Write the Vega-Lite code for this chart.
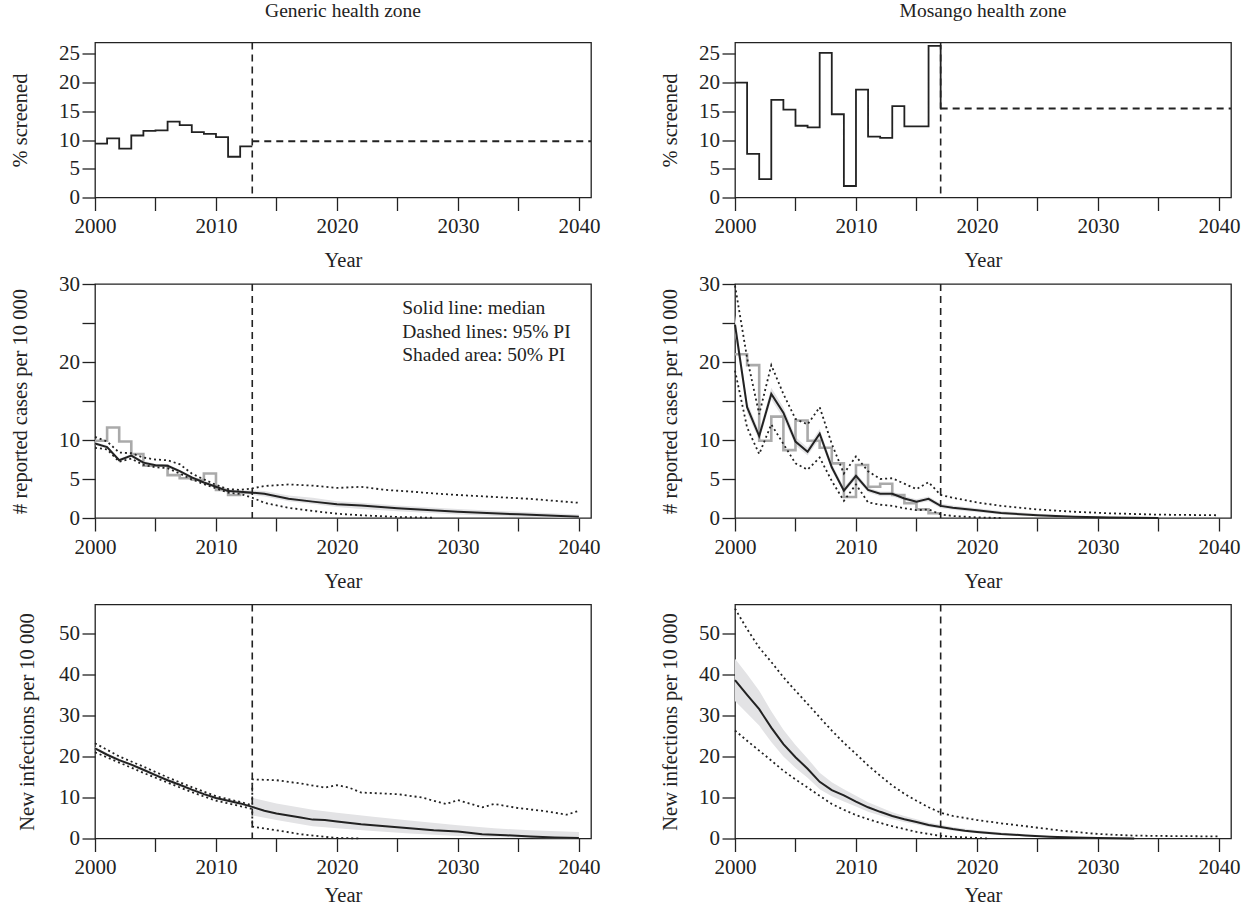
{
  "$schema": "https://vega.github.io/schema/vega-lite/v6.json",
  "background": "white",
  "padding": {"left": 10, "top": 0.5, "right": 5, "bottom": 0},
  "columns": 2,
  "spacing": {"row": 86.5, "column": 144},
  "bounds": "flush",
  "config": {
    "font": "Liberation Serif",
    "view": {"stroke": "#222", "strokeWidth": 1.3},
    "title": {"font": "Liberation Serif", "fontSize": 19.5, "fontWeight": "normal", "color": "#222", "anchor": "middle", "frame": "group", "baseline": "alphabetic", "offset": 20}
  },
  "datasets": {
    "gen_screen": [{"year":2000,"v":9.4},{"year":2001,"v":10.3},{"year":2002,"v":8.5},{"year":2003,"v":10.8},{"year":2004,"v":11.6},{"year":2005,"v":11.7},{"year":2006,"v":13.2},{"year":2007,"v":12.6},{"year":2008,"v":11.4},{"year":2009,"v":11.1},{"year":2010,"v":10.5},{"year":2011,"v":7.1},{"year":2012,"v":8.9},{"year":2013,"v":8.9}],
    "gen_proj": [{"year":2013,"end":2041,"v":9.8}],
    "gen_cut": [{"year":2013}],
    "mos_screen": [{"year":2000,"v":20.0},{"year":2001,"v":7.6},{"year":2002,"v":3.2},{"year":2003,"v":17.0},{"year":2004,"v":15.3},{"year":2005,"v":12.5},{"year":2006,"v":12.2},{"year":2007,"v":25.2},{"year":2008,"v":14.5},{"year":2009,"v":2.0},{"year":2010,"v":18.8},{"year":2011,"v":10.6},{"year":2012,"v":10.4},{"year":2013,"v":15.9},{"year":2014,"v":12.4},{"year":2015,"v":12.4},{"year":2016,"v":26.4},{"year":2017,"v":15.5}],
    "mos_proj": [{"year":2017,"end":2041,"v":15.5}],
    "mos_cut": [{"year":2017}],
    "gen_obs": [{"year":2000,"v":9.9},{"year":2001,"v":11.6},{"year":2002,"v":9.8},{"year":2003,"v":8.2},{"year":2004,"v":6.7},{"year":2005,"v":6.7},{"year":2006,"v":5.5},{"year":2007,"v":5.1},{"year":2008,"v":4.9},{"year":2009,"v":5.7},{"year":2010,"v":3.6},{"year":2011,"v":2.95},{"year":2012,"v":3.25},{"year":2013,"v":3.25}],
    "gen_cases_med": [{"year":2000,"v":9.55},{"year":2001,"v":9.1},{"year":2002,"v":7.4},{"year":2003,"v":8.0},{"year":2004,"v":7.1},{"year":2005,"v":6.75},{"year":2006,"v":6.7},{"year":2007,"v":6.0},{"year":2008,"v":5.2},{"year":2009,"v":4.55},{"year":2010,"v":4.0},{"year":2011,"v":3.45},{"year":2012,"v":3.35},{"year":2013,"v":3.25},{"year":2014,"v":3.1},{"year":2015,"v":2.8},{"year":2016,"v":2.48},{"year":2018,"v":2.1},{"year":2020,"v":1.75},{"year":2022,"v":1.6},{"year":2025,"v":1.24},{"year":2030,"v":0.81},{"year":2035,"v":0.47},{"year":2040,"v":0.17}],
    "gen_cases_50": [{"year":2000,"lo":9.35,"hi":9.75},{"year":2001,"lo":8.9,"hi":9.3},{"year":2002,"lo":7.2,"hi":7.6},{"year":2003,"lo":7.8,"hi":8.2},{"year":2004,"lo":6.9,"hi":7.3},{"year":2005,"lo":6.55,"hi":6.95},{"year":2006,"lo":6.5,"hi":6.9},{"year":2007,"lo":5.8,"hi":6.2},{"year":2008,"lo":5.0,"hi":5.4},{"year":2009,"lo":4.35,"hi":4.75},{"year":2010,"lo":3.8,"hi":4.2},{"year":2011,"lo":3.25,"hi":3.65},{"year":2012,"lo":3.15,"hi":3.55},{"year":2013,"lo":2.95,"hi":3.55},{"year":2014,"lo":2.75,"hi":3.45},{"year":2016,"lo":2.15,"hi":2.9},{"year":2018,"lo":1.8,"hi":2.6},{"year":2020,"lo":1.4,"hi":2.15},{"year":2022,"lo":1.15,"hi":1.95},{"year":2025,"lo":0.85,"hi":1.6},{"year":2030,"lo":0.45,"hi":1.15},{"year":2035,"lo":0.15,"hi":0.8},{"year":2040,"lo":0.0,"hi":0.45}],
    "gen_cases_95": [{"b":"hi","year":2000,"v":10.4},{"b":"hi","year":2001,"v":9.8},{"b":"hi","year":2002,"v":8.4},{"b":"hi","year":2003,"v":8.3},{"b":"hi","year":2004,"v":7.75},{"b":"hi","year":2005,"v":7.5},{"b":"hi","year":2006,"v":7.4},{"b":"hi","year":2007,"v":6.9},{"b":"hi","year":2008,"v":5.7},{"b":"hi","year":2009,"v":4.95},{"b":"hi","year":2010,"v":4.25},{"b":"hi","year":2011,"v":3.7},{"b":"hi","year":2012,"v":3.6},{"b":"hi","year":2013,"v":3.8},{"b":"hi","year":2014,"v":4.1},{"b":"hi","year":2016,"v":4.3},{"b":"hi","year":2018,"v":4.15},{"b":"hi","year":2020,"v":3.85},{"b":"hi","year":2022,"v":4.0},{"b":"hi","year":2024,"v":3.6},{"b":"hi","year":2026,"v":3.4},{"b":"hi","year":2028,"v":3.15},{"b":"hi","year":2030,"v":2.95},{"b":"hi","year":2033,"v":2.7},{"b":"hi","year":2036,"v":2.45},{"b":"hi","year":2040,"v":1.95},
      {"b":"lo","year":2000,"v":9.0},{"b":"lo","year":2001,"v":8.8},{"b":"lo","year":2002,"v":7.2},{"b":"lo","year":2003,"v":7.6},{"b":"lo","year":2004,"v":6.8},{"b":"lo","year":2005,"v":6.5},{"b":"lo","year":2006,"v":6.4},{"b":"lo","year":2007,"v":5.7},{"b":"lo","year":2008,"v":4.95},{"b":"lo","year":2009,"v":4.35},{"b":"lo","year":2010,"v":3.8},{"b":"lo","year":2011,"v":3.25},{"b":"lo","year":2012,"v":3.1},{"b":"lo","year":2013,"v":2.6},{"b":"lo","year":2014,"v":1.95},{"b":"lo","year":2016,"v":1.3},{"b":"lo","year":2018,"v":0.9},{"b":"lo","year":2020,"v":0.55},{"b":"lo","year":2022,"v":0.35},{"b":"lo","year":2025,"v":0.13},{"b":"lo","year":2028,"v":0.03}],
    "mos_obs": [{"year":2000,"v":21.0},{"year":2001,"v":19.6},{"year":2002,"v":9.9},{"year":2003,"v":13.0},{"year":2004,"v":8.7},{"year":2005,"v":12.5},{"year":2006,"v":9.9},{"year":2007,"v":9.0},{"year":2008,"v":7.0},{"year":2009,"v":2.7},{"year":2010,"v":6.8},{"year":2011,"v":4.0},{"year":2012,"v":4.4},{"year":2013,"v":2.95},{"year":2014,"v":1.9},{"year":2015,"v":1.1},{"year":2016,"v":0.6},{"year":2017,"v":0.6}],
    "mos_cases_med": [{"year":2000,"v":24.8},{"year":2001,"v":14.2},{"year":2002,"v":10.5},{"year":2003,"v":15.9},{"year":2004,"v":13.5},{"year":2005,"v":9.8},{"year":2006,"v":8.5},{"year":2007,"v":10.8},{"year":2008,"v":6.5},{"year":2009,"v":3.5},{"year":2010,"v":5.4},{"year":2011,"v":3.6},{"year":2012,"v":3.1},{"year":2013,"v":3.1},{"year":2014,"v":2.5},{"year":2015,"v":2.1},{"year":2016,"v":2.45},{"year":2017,"v":1.55},{"year":2018,"v":1.3},{"year":2020,"v":1.0},{"year":2022,"v":0.65},{"year":2025,"v":0.35},{"year":2028,"v":0.15},{"year":2031,"v":0.05},{"year":2035,"v":0.0}],
    "mos_cases_50": [{"year":2000,"lo":23.5,"hi":26.0},{"year":2001,"lo":13.5,"hi":14.9},{"year":2002,"lo":9.9,"hi":11.1},{"year":2003,"lo":15.2,"hi":16.7},{"year":2004,"lo":12.8,"hi":14.2},{"year":2005,"lo":9.3,"hi":10.4},{"year":2006,"lo":8.0,"hi":9.0},{"year":2007,"lo":10.2,"hi":11.4},{"year":2008,"lo":6.1,"hi":7.0},{"year":2009,"lo":3.2,"hi":3.9},{"year":2010,"lo":5.0,"hi":5.8},{"year":2011,"lo":3.3,"hi":3.9},{"year":2012,"lo":2.8,"hi":3.4},{"year":2013,"lo":2.8,"hi":3.4},{"year":2014,"lo":2.2,"hi":2.8},{"year":2015,"lo":1.85,"hi":2.4},{"year":2016,"lo":2.15,"hi":2.75},{"year":2017,"lo":1.25,"hi":1.85},{"year":2018,"lo":1.05,"hi":1.6},{"year":2020,"lo":0.75,"hi":1.25},{"year":2022,"lo":0.45,"hi":0.9},{"year":2025,"lo":0.2,"hi":0.55},{"year":2028,"lo":0.05,"hi":0.3},{"year":2031,"lo":0.0,"hi":0.12}],
    "mos_cases_95": [{"b":"hi","year":2000,"v":29.8},{"b":"hi","year":2001,"v":20.5},{"b":"hi","year":2002,"v":13.3},{"b":"hi","year":2003,"v":19.6},{"b":"hi","year":2004,"v":15.9},{"b":"hi","year":2005,"v":12.7},{"b":"hi","year":2006,"v":12.0},{"b":"hi","year":2007,"v":14.2},{"b":"hi","year":2008,"v":9.5},{"b":"hi","year":2009,"v":5.7},{"b":"hi","year":2010,"v":7.9},{"b":"hi","year":2011,"v":6.0},{"b":"hi","year":2012,"v":5.0},{"b":"hi","year":2013,"v":5.1},{"b":"hi","year":2014,"v":4.4},{"b":"hi","year":2015,"v":3.7},{"b":"hi","year":2016,"v":4.6},{"b":"hi","year":2017,"v":2.95},{"b":"hi","year":2018,"v":2.6},{"b":"hi","year":2020,"v":2.0},{"b":"hi","year":2022,"v":1.55},{"b":"hi","year":2025,"v":1.1},{"b":"hi","year":2028,"v":0.8},{"b":"hi","year":2031,"v":0.6},{"b":"hi","year":2035,"v":0.43},{"b":"hi","year":2040,"v":0.35},
      {"b":"lo","year":2000,"v":18.9},{"b":"lo","year":2001,"v":11.6},{"b":"lo","year":2002,"v":8.2},{"b":"lo","year":2003,"v":12.0},{"b":"lo","year":2004,"v":9.5},{"b":"lo","year":2005,"v":7.0},{"b":"lo","year":2006,"v":6.2},{"b":"lo","year":2007,"v":7.75},{"b":"lo","year":2008,"v":4.75},{"b":"lo","year":2009,"v":2.2},{"b":"lo","year":2010,"v":4.3},{"b":"lo","year":2011,"v":2.0},{"b":"lo","year":2012,"v":1.7},{"b":"lo","year":2013,"v":1.55},{"b":"lo","year":2014,"v":1.25},{"b":"lo","year":2015,"v":1.0},{"b":"lo","year":2016,"v":1.1},{"b":"lo","year":2017,"v":0.47},{"b":"lo","year":2018,"v":0.25},{"b":"lo","year":2020,"v":0.08},{"b":"lo","year":2022,"v":0.0}],
    "gen_inf_med": [{"year":2000,"v":21.95},{"year":2001,"v":20.4},{"year":2002,"v":19.1},{"year":2003,"v":18.0},{"year":2004,"v":16.75},{"year":2005,"v":15.45},{"year":2006,"v":14.2},{"year":2007,"v":13.1},{"year":2008,"v":11.9},{"year":2009,"v":10.8},{"year":2010,"v":9.85},{"year":2011,"v":9.2},{"year":2012,"v":8.55},{"year":2013,"v":7.7},{"year":2014,"v":6.75},{"year":2015,"v":6.1},{"year":2016,"v":5.6},{"year":2017,"v":5.1},{"year":2018,"v":4.6},{"year":2019,"v":4.5},{"year":2020,"v":4.15},{"year":2022,"v":3.5},{"year":2024,"v":3.0},{"year":2026,"v":2.5},{"year":2028,"v":2.0},{"year":2030,"v":1.7},{"year":2032,"v":1.05},{"year":2034,"v":0.8},{"year":2036,"v":0.5},{"year":2038,"v":0.25},{"year":2040,"v":0.1}],
    "gen_inf_50": [{"year":2000,"lo":21.6,"hi":22.3},{"year":2002,"lo":18.75,"hi":19.45},{"year":2004,"lo":16.4,"hi":17.1},{"year":2006,"lo":13.85,"hi":14.55},{"year":2008,"lo":11.55,"hi":12.25},{"year":2010,"lo":9.5,"hi":10.2},{"year":2012,"lo":8.2,"hi":8.9},{"year":2013,"lo":7.35,"hi":8.05},{"year":2013,"lo":5.6,"hi":9.9},{"year":2015,"lo":4.5,"hi":8.5},{"year":2018,"lo":3.0,"hi":7.0},{"year":2020,"lo":2.5,"hi":6.3},{"year":2023,"lo":1.8,"hi":5.3},{"year":2026,"lo":1.2,"hi":4.4},{"year":2030,"lo":0.6,"hi":3.2},{"year":2033,"lo":0.3,"hi":2.5},{"year":2036,"lo":0.1,"hi":2.0},{"year":2040,"lo":0.0,"hi":1.6}],
    "gen_inf_95": [{"b":"hi","year":2000,"v":23.2},{"b":"hi","year":2002,"v":20.0},{"b":"hi","year":2004,"v":17.5},{"b":"hi","year":2006,"v":14.9},{"b":"hi","year":2008,"v":12.5},{"b":"hi","year":2010,"v":10.3},{"b":"hi","year":2012,"v":8.9},{"b":"hi","year":2013,"v":8.1},{"b":"hi","year":2013,"v":14.4},{"b":"hi","year":2015,"v":14.2},{"b":"hi","year":2017,"v":13.4},{"b":"hi","year":2019,"v":12.4},{"b":"hi","year":2020,"v":13.0},{"b":"hi","year":2021,"v":12.4},{"b":"hi","year":2022,"v":11.2},{"b":"hi","year":2025,"v":10.8},{"b":"hi","year":2027,"v":10.0},{"b":"hi","year":2029,"v":8.4},{"b":"hi","year":2030,"v":9.35},{"b":"hi","year":2032,"v":7.6},{"b":"hi","year":2033,"v":8.4},{"b":"hi","year":2035,"v":7.4},{"b":"hi","year":2037,"v":6.75},{"b":"hi","year":2039,"v":5.8},{"b":"hi","year":2040,"v":6.75},
      {"b":"lo","year":2000,"v":21.0},{"b":"lo","year":2002,"v":18.5},{"b":"lo","year":2004,"v":16.0},{"b":"lo","year":2006,"v":13.6},{"b":"lo","year":2008,"v":11.3},{"b":"lo","year":2010,"v":9.2},{"b":"lo","year":2012,"v":7.9},{"b":"lo","year":2013,"v":7.2},{"b":"lo","year":2013,"v":2.9},{"b":"lo","year":2015,"v":2.0},{"b":"lo","year":2017,"v":1.05},{"b":"lo","year":2019,"v":0.4},{"b":"lo","year":2020,"v":0.15},{"b":"lo","year":2022,"v":0.0}],
    "mos_inf_med": [{"year":2000,"v":38.6},{"year":2001,"v":35.0},{"year":2002,"v":31.5},{"year":2003,"v":27.0},{"year":2004,"v":23.0},{"year":2005,"v":19.8},{"year":2006,"v":17.0},{"year":2007,"v":13.8},{"year":2008,"v":11.8},{"year":2009,"v":10.5},{"year":2010,"v":9.0},{"year":2011,"v":7.6},{"year":2012,"v":6.5},{"year":2013,"v":5.5},{"year":2014,"v":4.7},{"year":2015,"v":4.0},{"year":2016,"v":3.3},{"year":2017,"v":2.8},{"year":2018,"v":2.3},{"year":2019,"v":1.9},{"year":2020,"v":1.6},{"year":2022,"v":1.1},{"year":2024,"v":0.75},{"year":2026,"v":0.45},{"year":2028,"v":0.25},{"year":2030,"v":0.12},{"year":2033,"v":0.02}],
    "mos_inf_50": [{"year":2000,"lo":33.5,"hi":43.8},{"year":2001,"lo":30.5,"hi":40.0},{"year":2002,"lo":27.5,"hi":36.0},{"year":2003,"lo":23.5,"hi":31.0},{"year":2004,"lo":20.0,"hi":26.5},{"year":2005,"lo":17.2,"hi":22.8},{"year":2006,"lo":14.8,"hi":19.5},{"year":2007,"lo":12.0,"hi":16.0},{"year":2008,"lo":10.3,"hi":13.7},{"year":2009,"lo":9.0,"hi":12.0},{"year":2010,"lo":7.8,"hi":10.4},{"year":2011,"lo":6.5,"hi":8.8},{"year":2012,"lo":5.6,"hi":7.6},{"year":2013,"lo":4.7,"hi":6.4},{"year":2014,"lo":4.0,"hi":5.5},{"year":2015,"lo":3.4,"hi":4.7},{"year":2016,"lo":2.8,"hi":3.9},{"year":2017,"lo":2.35,"hi":3.35},{"year":2018,"lo":1.9,"hi":2.8},{"year":2020,"lo":1.25,"hi":2.0},{"year":2022,"lo":0.8,"hi":1.45},{"year":2024,"lo":0.5,"hi":1.05},{"year":2026,"lo":0.25,"hi":0.7},{"year":2028,"lo":0.1,"hi":0.45},{"year":2030,"lo":0.02,"hi":0.25},{"year":2033,"lo":0.0,"hi":0.05}],
    "mos_inf_95": [{"b":"hi","year":2000,"v":56.0},{"b":"hi","year":2001,"v":51.0},{"b":"hi","year":2002,"v":46.5},{"b":"hi","year":2003,"v":43.0},{"b":"hi","year":2004,"v":39.3},{"b":"hi","year":2005,"v":36.0},{"b":"hi","year":2006,"v":32.8},{"b":"hi","year":2007,"v":29.5},{"b":"hi","year":2008,"v":26.3},{"b":"hi","year":2009,"v":23.3},{"b":"hi","year":2010,"v":20.6},{"b":"hi","year":2011,"v":17.8},{"b":"hi","year":2012,"v":15.3},{"b":"hi","year":2013,"v":12.9},{"b":"hi","year":2014,"v":10.9},{"b":"hi","year":2015,"v":9.2},{"b":"hi","year":2016,"v":7.6},{"b":"hi","year":2017,"v":6.3},{"b":"hi","year":2018,"v":5.5},{"b":"hi","year":2020,"v":4.5},{"b":"hi","year":2022,"v":3.7},{"b":"hi","year":2024,"v":3.0},{"b":"hi","year":2027,"v":1.9},{"b":"hi","year":2030,"v":1.1},{"b":"hi","year":2033,"v":0.7},{"b":"hi","year":2036,"v":0.6},{"b":"hi","year":2040,"v":0.5},
      {"b":"lo","year":2000,"v":26.3},{"b":"lo","year":2001,"v":23.8},{"b":"lo","year":2002,"v":21.4},{"b":"lo","year":2003,"v":19.0},{"b":"lo","year":2004,"v":16.5},{"b":"lo","year":2005,"v":14.4},{"b":"lo","year":2006,"v":12.4},{"b":"lo","year":2007,"v":10.4},{"b":"lo","year":2008,"v":8.4},{"b":"lo","year":2009,"v":7.0},{"b":"lo","year":2010,"v":5.7},{"b":"lo","year":2011,"v":4.7},{"b":"lo","year":2012,"v":3.8},{"b":"lo","year":2013,"v":3.0},{"b":"lo","year":2014,"v":2.3},{"b":"lo","year":2015,"v":1.6},{"b":"lo","year":2016,"v":1.1},{"b":"lo","year":2017,"v":0.65},{"b":"lo","year":2018,"v":0.4},{"b":"lo","year":2020,"v":0.15},{"b":"lo","year":2021,"v":0.0}],
    "legend": [{"year":2025.4,"v":26.9,"label":"Solid line: median"},{"year":2025.4,"v":23.8,"label":"Dashed lines: 95% PI"},{"year":2025.4,"v":20.9,"label":"Shaded area: 50% PI"}]
  },
  "concat": [
    {
      "width": 496, "height": 155,
      "title": {"text": "Generic health zone"},
      "encoding": {"x": {"field": "year", "type": "quantitative", "scale": {"domain": [2000, 2041], "nice": false, "zero": false},
        "axis": {"title": "Year", "values": [2000,2005,2010,2015,2020,2025,2030,2035,2040], "format": "d", "labelExpr": "datum.value % 10 == 0 ? datum.label : ''", "titleX": 248, "titleY": 68.5, "domain": false, "grid": false, "ticks": true, "tickSize": 13, "tickWidth": 1.3, "tickColor": "#222", "labelFont": "Liberation Serif", "labelFontSize": 21, "labelColor": "#222", "labelFlush": false, "labelOverlap": false, "labelBaseline": "alphabetic", "labelPadding": 22, "titleFont": "Liberation Serif", "titleFontSize": 20.5, "titleFontWeight": "normal", "titleColor": "#222", "titleBaseline": "alphabetic", "titleAlign": "center"}}},
      "layer": [
        {"data": {"name": "gen_screen"}, "mark": {"type": "line", "interpolate": "step-after", "color": "#222", "strokeWidth": 1.8},
         "encoding": {"y": {"field": "v", "type": "quantitative", "scale": {"domain": [0, 27], "nice": false}, "axis": {"title": "% screened", "values": [0,5,10,15,20,25], "titleX": -68.3, "titleY": 77.5, "domain": false, "grid": false, "ticks": true, "tickSize": 13, "tickWidth": 1.3, "tickColor": "#222", "labelFont": "Liberation Serif", "labelFontSize": 21, "labelColor": "#222", "labelFlush": false, "labelOverlap": false, "labelBaseline": "middle", "labelPadding": 2.5, "titleFont": "Liberation Serif", "titleFontSize": 20.5, "titleFontWeight": "normal", "titleColor": "#222", "titleAngle": 270, "titleBaseline": "alphabetic", "titleAlign": "center"}}}},
        {"data": {"name": "gen_proj"}, "mark": {"type": "rule", "color": "#222", "strokeWidth": 1.8, "strokeDash": [7, 5]},
         "encoding": {"x2": {"field": "end"}, "y": {"field": "v", "type": "quantitative", "scale": {"domain": [0, 27], "nice": false}, "axis": {"title": "% screened", "values": [0,5,10,15,20,25], "titleX": -68.3, "titleY": 77.5, "domain": false, "grid": false, "ticks": true, "tickSize": 13, "tickWidth": 1.3, "tickColor": "#222", "labelFont": "Liberation Serif", "labelFontSize": 21, "labelColor": "#222", "labelFlush": false, "labelOverlap": false, "labelBaseline": "middle", "labelPadding": 2.5, "titleFont": "Liberation Serif", "titleFontSize": 20.5, "titleFontWeight": "normal", "titleColor": "#222", "titleAngle": 270, "titleBaseline": "alphabetic", "titleAlign": "center"}}}},
        {"data": {"name": "gen_cut"}, "mark": {"type": "rule", "color": "#222", "strokeWidth": 1.6, "strokeDash": [7, 5]}, "encoding": {}}
      ]
    },
    {
      "width": 496, "height": 155,
      "title": {"text": "Mosango health zone"},
      "encoding": {"x": {"field": "year", "type": "quantitative", "scale": {"domain": [2000, 2041], "nice": false, "zero": false},
        "axis": {"title": "Year", "values": [2000,2005,2010,2015,2020,2025,2030,2035,2040], "format": "d", "labelExpr": "datum.value % 10 == 0 ? datum.label : ''", "titleX": 248, "titleY": 68.5, "domain": false, "grid": false, "ticks": true, "tickSize": 13, "tickWidth": 1.3, "tickColor": "#222", "labelFont": "Liberation Serif", "labelFontSize": 21, "labelColor": "#222", "labelFlush": false, "labelOverlap": false, "labelBaseline": "alphabetic", "labelPadding": 22, "titleFont": "Liberation Serif", "titleFontSize": 20.5, "titleFontWeight": "normal", "titleColor": "#222", "titleBaseline": "alphabetic", "titleAlign": "center"}}},
      "layer": [
        {"data": {"name": "mos_screen"}, "mark": {"type": "line", "interpolate": "step-after", "color": "#222", "strokeWidth": 1.8},
         "encoding": {"y": {"field": "v", "type": "quantitative", "scale": {"domain": [0, 27], "nice": false}, "axis": {"title": "% screened", "values": [0,5,10,15,20,25], "titleX": -59, "titleY": 77.5, "domain": false, "grid": false, "ticks": true, "tickSize": 13, "tickWidth": 1.3, "tickColor": "#222", "labelFont": "Liberation Serif", "labelFontSize": 21, "labelColor": "#222", "labelFlush": false, "labelOverlap": false, "labelBaseline": "middle", "labelPadding": 2.5, "titleFont": "Liberation Serif", "titleFontSize": 20.5, "titleFontWeight": "normal", "titleColor": "#222", "titleAngle": 270, "titleBaseline": "alphabetic", "titleAlign": "center"}}}},
        {"data": {"name": "mos_proj"}, "mark": {"type": "rule", "color": "#222", "strokeWidth": 1.8, "strokeDash": [7, 5]},
         "encoding": {"x2": {"field": "end"}, "y": {"field": "v", "type": "quantitative", "scale": {"domain": [0, 27], "nice": false}, "axis": {"title": "% screened", "values": [0,5,10,15,20,25], "titleX": -59, "titleY": 77.5, "domain": false, "grid": false, "ticks": true, "tickSize": 13, "tickWidth": 1.3, "tickColor": "#222", "labelFont": "Liberation Serif", "labelFontSize": 21, "labelColor": "#222", "labelFlush": false, "labelOverlap": false, "labelBaseline": "middle", "labelPadding": 2.5, "titleFont": "Liberation Serif", "titleFontSize": 20.5, "titleFontWeight": "normal", "titleColor": "#222", "titleAngle": 270, "titleBaseline": "alphabetic", "titleAlign": "center"}}}},
        {"data": {"name": "mos_cut"}, "mark": {"type": "rule", "color": "#222", "strokeWidth": 1.6, "strokeDash": [7, 5]}, "encoding": {}}
      ]
    },
    {
      "width": 496, "height": 234,
      "encoding": {"x": {"field": "year", "type": "quantitative", "scale": {"domain": [2000, 2041], "nice": false, "zero": false},
        "axis": {"title": "Year", "values": [2000,2005,2010,2015,2020,2025,2030,2035,2040], "format": "d", "labelExpr": "datum.value % 10 == 0 ? datum.label : ''", "titleX": 248, "titleY": 69.7, "domain": false, "grid": false, "ticks": true, "tickSize": 13, "tickWidth": 1.3, "tickColor": "#222", "labelFont": "Liberation Serif", "labelFontSize": 21, "labelColor": "#222", "labelFlush": false, "labelOverlap": false, "labelBaseline": "alphabetic", "labelPadding": 22, "titleFont": "Liberation Serif", "titleFontSize": 20.5, "titleFontWeight": "normal", "titleColor": "#222", "titleBaseline": "alphabetic", "titleAlign": "center"}}},
      "layer": [
        {"data": {"name": "gen_cases_50"}, "mark": {"type": "area", "color": "#e3e3e5", "opacity": 1},
         "encoding": {"y": {"field": "lo", "type": "quantitative", "scale": {"domain": [0, 30], "nice": false}, "axis": {"title": "# reported cases per 10 000", "values": [0,5,10,15,20,25,30], "labelExpr": "datum.value == 15 || datum.value == 25 ? '' : datum.label", "titleX": -68.3, "titleY": 117, "domain": false, "grid": false, "ticks": true, "tickSize": 13, "tickWidth": 1.3, "tickColor": "#222", "labelFont": "Liberation Serif", "labelFontSize": 21, "labelColor": "#222", "labelFlush": false, "labelOverlap": false, "labelBaseline": "middle", "labelPadding": 2.5, "titleFont": "Liberation Serif", "titleFontSize": 20.5, "titleFontWeight": "normal", "titleColor": "#222", "titleAngle": 270, "titleBaseline": "alphabetic", "titleAlign": "center"}},
           "y2": {"field": "hi"}}},
        {"data": {"name": "gen_obs"}, "mark": {"type": "line", "interpolate": "step-after", "color": "#aaaaaa", "strokeWidth": 2.6},
         "encoding": {"y": {"field": "v", "type": "quantitative", "scale": {"domain": [0, 30], "nice": false}, "axis": {"title": "# reported cases per 10 000", "values": [0,5,10,15,20,25,30], "labelExpr": "datum.value == 15 || datum.value == 25 ? '' : datum.label", "titleX": -68.3, "titleY": 117, "domain": false, "grid": false, "ticks": true, "tickSize": 13, "tickWidth": 1.3, "tickColor": "#222", "labelFont": "Liberation Serif", "labelFontSize": 21, "labelColor": "#222", "labelFlush": false, "labelOverlap": false, "labelBaseline": "middle", "labelPadding": 2.5, "titleFont": "Liberation Serif", "titleFontSize": 20.5, "titleFontWeight": "normal", "titleColor": "#222", "titleAngle": 270, "titleBaseline": "alphabetic", "titleAlign": "center"}}}},
        {"data": {"name": "gen_cases_95"}, "mark": {"type": "line", "color": "#222", "strokeWidth": 1.8, "strokeDash": [2, 3]},
         "encoding": {"detail": {"field": "b"}, "y": {"field": "v", "type": "quantitative", "scale": {"domain": [0, 30], "nice": false}, "axis": {"title": "# reported cases per 10 000", "values": [0,5,10,15,20,25,30], "labelExpr": "datum.value == 15 || datum.value == 25 ? '' : datum.label", "titleX": -68.3, "titleY": 117, "domain": false, "grid": false, "ticks": true, "tickSize": 13, "tickWidth": 1.3, "tickColor": "#222", "labelFont": "Liberation Serif", "labelFontSize": 21, "labelColor": "#222", "labelFlush": false, "labelOverlap": false, "labelBaseline": "middle", "labelPadding": 2.5, "titleFont": "Liberation Serif", "titleFontSize": 20.5, "titleFontWeight": "normal", "titleColor": "#222", "titleAngle": 270, "titleBaseline": "alphabetic", "titleAlign": "center"}}}},
        {"data": {"name": "gen_cases_med"}, "mark": {"type": "line", "color": "#222", "strokeWidth": 2},
         "encoding": {"y": {"field": "v", "type": "quantitative", "scale": {"domain": [0, 30], "nice": false}, "axis": {"title": "# reported cases per 10 000", "values": [0,5,10,15,20,25,30], "labelExpr": "datum.value == 15 || datum.value == 25 ? '' : datum.label", "titleX": -68.3, "titleY": 117, "domain": false, "grid": false, "ticks": true, "tickSize": 13, "tickWidth": 1.3, "tickColor": "#222", "labelFont": "Liberation Serif", "labelFontSize": 21, "labelColor": "#222", "labelFlush": false, "labelOverlap": false, "labelBaseline": "middle", "labelPadding": 2.5, "titleFont": "Liberation Serif", "titleFontSize": 20.5, "titleFontWeight": "normal", "titleColor": "#222", "titleAngle": 270, "titleBaseline": "alphabetic", "titleAlign": "center"}}}},
        {"data": {"name": "gen_cut"}, "mark": {"type": "rule", "color": "#222", "strokeWidth": 1.6, "strokeDash": [7, 5]}, "encoding": {}},
        {"data": {"name": "legend"}, "mark": {"type": "text", "align": "left", "baseline": "middle", "font": "Liberation Serif", "fontSize": 19.5, "color": "#222"},
         "encoding": {"text": {"field": "label"}, "y": {"field": "v", "type": "quantitative", "scale": {"domain": [0, 30], "nice": false}, "axis": {"title": "# reported cases per 10 000", "values": [0,5,10,15,20,25,30], "labelExpr": "datum.value == 15 || datum.value == 25 ? '' : datum.label", "titleX": -68.3, "titleY": 117, "domain": false, "grid": false, "ticks": true, "tickSize": 13, "tickWidth": 1.3, "tickColor": "#222", "labelFont": "Liberation Serif", "labelFontSize": 21, "labelColor": "#222", "labelFlush": false, "labelOverlap": false, "labelBaseline": "middle", "labelPadding": 2.5, "titleFont": "Liberation Serif", "titleFontSize": 20.5, "titleFontWeight": "normal", "titleColor": "#222", "titleAngle": 270, "titleBaseline": "alphabetic", "titleAlign": "center"}}}}
      ]
    },
    {
      "width": 496, "height": 234,
      "encoding": {"x": {"field": "year", "type": "quantitative", "scale": {"domain": [2000, 2041], "nice": false, "zero": false},
        "axis": {"title": "Year", "values": [2000,2005,2010,2015,2020,2025,2030,2035,2040], "format": "d", "labelExpr": "datum.value % 10 == 0 ? datum.label : ''", "titleX": 248, "titleY": 69.7, "domain": false, "grid": false, "ticks": true, "tickSize": 13, "tickWidth": 1.3, "tickColor": "#222", "labelFont": "Liberation Serif", "labelFontSize": 21, "labelColor": "#222", "labelFlush": false, "labelOverlap": false, "labelBaseline": "alphabetic", "labelPadding": 22, "titleFont": "Liberation Serif", "titleFontSize": 20.5, "titleFontWeight": "normal", "titleColor": "#222", "titleBaseline": "alphabetic", "titleAlign": "center"}}},
      "layer": [
        {"data": {"name": "mos_cases_50"}, "mark": {"type": "area", "color": "#e3e3e5", "opacity": 1},
         "encoding": {"y": {"field": "lo", "type": "quantitative", "scale": {"domain": [0, 30], "nice": false}, "axis": {"title": "# reported cases per 10 000", "values": [0,5,10,15,20,25,30], "labelExpr": "datum.value == 15 || datum.value == 25 ? '' : datum.label", "titleX": -59, "titleY": 117, "domain": false, "grid": false, "ticks": true, "tickSize": 13, "tickWidth": 1.3, "tickColor": "#222", "labelFont": "Liberation Serif", "labelFontSize": 21, "labelColor": "#222", "labelFlush": false, "labelOverlap": false, "labelBaseline": "middle", "labelPadding": 2.5, "titleFont": "Liberation Serif", "titleFontSize": 20.5, "titleFontWeight": "normal", "titleColor": "#222", "titleAngle": 270, "titleBaseline": "alphabetic", "titleAlign": "center"}},
           "y2": {"field": "hi"}}},
        {"data": {"name": "mos_obs"}, "mark": {"type": "line", "interpolate": "step-after", "color": "#aaaaaa", "strokeWidth": 2.6},
         "encoding": {"y": {"field": "v", "type": "quantitative", "scale": {"domain": [0, 30], "nice": false}, "axis": {"title": "# reported cases per 10 000", "values": [0,5,10,15,20,25,30], "labelExpr": "datum.value == 15 || datum.value == 25 ? '' : datum.label", "titleX": -59, "titleY": 117, "domain": false, "grid": false, "ticks": true, "tickSize": 13, "tickWidth": 1.3, "tickColor": "#222", "labelFont": "Liberation Serif", "labelFontSize": 21, "labelColor": "#222", "labelFlush": false, "labelOverlap": false, "labelBaseline": "middle", "labelPadding": 2.5, "titleFont": "Liberation Serif", "titleFontSize": 20.5, "titleFontWeight": "normal", "titleColor": "#222", "titleAngle": 270, "titleBaseline": "alphabetic", "titleAlign": "center"}}}},
        {"data": {"name": "mos_cases_95"}, "mark": {"type": "line", "color": "#222", "strokeWidth": 1.8, "strokeDash": [2, 3]},
         "encoding": {"detail": {"field": "b"}, "y": {"field": "v", "type": "quantitative", "scale": {"domain": [0, 30], "nice": false}, "axis": {"title": "# reported cases per 10 000", "values": [0,5,10,15,20,25,30], "labelExpr": "datum.value == 15 || datum.value == 25 ? '' : datum.label", "titleX": -59, "titleY": 117, "domain": false, "grid": false, "ticks": true, "tickSize": 13, "tickWidth": 1.3, "tickColor": "#222", "labelFont": "Liberation Serif", "labelFontSize": 21, "labelColor": "#222", "labelFlush": false, "labelOverlap": false, "labelBaseline": "middle", "labelPadding": 2.5, "titleFont": "Liberation Serif", "titleFontSize": 20.5, "titleFontWeight": "normal", "titleColor": "#222", "titleAngle": 270, "titleBaseline": "alphabetic", "titleAlign": "center"}}}},
        {"data": {"name": "mos_cases_med"}, "mark": {"type": "line", "color": "#222", "strokeWidth": 2},
         "encoding": {"y": {"field": "v", "type": "quantitative", "scale": {"domain": [0, 30], "nice": false}, "axis": {"title": "# reported cases per 10 000", "values": [0,5,10,15,20,25,30], "labelExpr": "datum.value == 15 || datum.value == 25 ? '' : datum.label", "titleX": -59, "titleY": 117, "domain": false, "grid": false, "ticks": true, "tickSize": 13, "tickWidth": 1.3, "tickColor": "#222", "labelFont": "Liberation Serif", "labelFontSize": 21, "labelColor": "#222", "labelFlush": false, "labelOverlap": false, "labelBaseline": "middle", "labelPadding": 2.5, "titleFont": "Liberation Serif", "titleFontSize": 20.5, "titleFontWeight": "normal", "titleColor": "#222", "titleAngle": 270, "titleBaseline": "alphabetic", "titleAlign": "center"}}}},
        {"data": {"name": "mos_cut"}, "mark": {"type": "rule", "color": "#222", "strokeWidth": 1.6, "strokeDash": [7, 5]}, "encoding": {}}
      ]
    },
    {
      "width": 496, "height": 234,
      "encoding": {"x": {"field": "year", "type": "quantitative", "scale": {"domain": [2000, 2041], "nice": false, "zero": false},
        "axis": {"title": "Year", "values": [2000,2005,2010,2015,2020,2025,2030,2035,2040], "format": "d", "labelExpr": "datum.value % 10 == 0 ? datum.label : ''", "titleX": 248, "titleY": 63, "domain": false, "grid": false, "ticks": true, "tickSize": 13, "tickWidth": 1.3, "tickColor": "#222", "labelFont": "Liberation Serif", "labelFontSize": 21, "labelColor": "#222", "labelFlush": false, "labelOverlap": false, "labelBaseline": "alphabetic", "labelPadding": 22, "titleFont": "Liberation Serif", "titleFontSize": 20.5, "titleFontWeight": "normal", "titleColor": "#222", "titleBaseline": "alphabetic", "titleAlign": "center"}}},
      "layer": [
        {"data": {"name": "gen_inf_50"}, "mark": {"type": "area", "color": "#e3e3e5", "opacity": 1},
         "encoding": {"y": {"field": "lo", "type": "quantitative", "scale": {"domain": [0, 57], "nice": false}, "axis": {"title": "New infections per 10 000", "values": [0,10,20,30,40,50], "titleX": -61.7, "titleY": 117, "domain": false, "grid": false, "ticks": true, "tickSize": 13, "tickWidth": 1.3, "tickColor": "#222", "labelFont": "Liberation Serif", "labelFontSize": 21, "labelColor": "#222", "labelFlush": false, "labelOverlap": false, "labelBaseline": "middle", "labelPadding": 2.5, "titleFont": "Liberation Serif", "titleFontSize": 20.5, "titleFontWeight": "normal", "titleColor": "#222", "titleAngle": 270, "titleBaseline": "alphabetic", "titleAlign": "center"}},
           "y2": {"field": "hi"}}},
        {"data": {"name": "gen_inf_95"}, "mark": {"type": "line", "color": "#222", "strokeWidth": 1.8, "strokeDash": [2, 3]},
         "encoding": {"detail": {"field": "b"}, "y": {"field": "v", "type": "quantitative", "scale": {"domain": [0, 57], "nice": false}, "axis": {"title": "New infections per 10 000", "values": [0,10,20,30,40,50], "titleX": -61.7, "titleY": 117, "domain": false, "grid": false, "ticks": true, "tickSize": 13, "tickWidth": 1.3, "tickColor": "#222", "labelFont": "Liberation Serif", "labelFontSize": 21, "labelColor": "#222", "labelFlush": false, "labelOverlap": false, "labelBaseline": "middle", "labelPadding": 2.5, "titleFont": "Liberation Serif", "titleFontSize": 20.5, "titleFontWeight": "normal", "titleColor": "#222", "titleAngle": 270, "titleBaseline": "alphabetic", "titleAlign": "center"}}}},
        {"data": {"name": "gen_inf_med"}, "mark": {"type": "line", "color": "#222", "strokeWidth": 2},
         "encoding": {"y": {"field": "v", "type": "quantitative", "scale": {"domain": [0, 57], "nice": false}, "axis": {"title": "New infections per 10 000", "values": [0,10,20,30,40,50], "titleX": -61.7, "titleY": 117, "domain": false, "grid": false, "ticks": true, "tickSize": 13, "tickWidth": 1.3, "tickColor": "#222", "labelFont": "Liberation Serif", "labelFontSize": 21, "labelColor": "#222", "labelFlush": false, "labelOverlap": false, "labelBaseline": "middle", "labelPadding": 2.5, "titleFont": "Liberation Serif", "titleFontSize": 20.5, "titleFontWeight": "normal", "titleColor": "#222", "titleAngle": 270, "titleBaseline": "alphabetic", "titleAlign": "center"}}}},
        {"data": {"name": "gen_cut"}, "mark": {"type": "rule", "color": "#222", "strokeWidth": 1.6, "strokeDash": [7, 5]}, "encoding": {}}
      ]
    },
    {
      "width": 496, "height": 234,
      "encoding": {"x": {"field": "year", "type": "quantitative", "scale": {"domain": [2000, 2041], "nice": false, "zero": false},
        "axis": {"title": "Year", "values": [2000,2005,2010,2015,2020,2025,2030,2035,2040], "format": "d", "labelExpr": "datum.value % 10 == 0 ? datum.label : ''", "titleX": 248, "titleY": 63, "domain": false, "grid": false, "ticks": true, "tickSize": 13, "tickWidth": 1.3, "tickColor": "#222", "labelFont": "Liberation Serif", "labelFontSize": 21, "labelColor": "#222", "labelFlush": false, "labelOverlap": false, "labelBaseline": "alphabetic", "labelPadding": 22, "titleFont": "Liberation Serif", "titleFontSize": 20.5, "titleFontWeight": "normal", "titleColor": "#222", "titleBaseline": "alphabetic", "titleAlign": "center"}}},
      "layer": [
        {"data": {"name": "mos_inf_50"}, "mark": {"type": "area", "color": "#e3e3e5", "opacity": 1},
         "encoding": {"y": {"field": "lo", "type": "quantitative", "scale": {"domain": [0, 57], "nice": false}, "axis": {"title": "New infections per 10 000", "values": [0,10,20,30,40,50], "titleX": -59, "titleY": 117, "domain": false, "grid": false, "ticks": true, "tickSize": 13, "tickWidth": 1.3, "tickColor": "#222", "labelFont": "Liberation Serif", "labelFontSize": 21, "labelColor": "#222", "labelFlush": false, "labelOverlap": false, "labelBaseline": "middle", "labelPadding": 2.5, "titleFont": "Liberation Serif", "titleFontSize": 20.5, "titleFontWeight": "normal", "titleColor": "#222", "titleAngle": 270, "titleBaseline": "alphabetic", "titleAlign": "center"}},
           "y2": {"field": "hi"}}},
        {"data": {"name": "mos_inf_95"}, "mark": {"type": "line", "color": "#222", "strokeWidth": 1.8, "strokeDash": [2, 3]},
         "encoding": {"detail": {"field": "b"}, "y": {"field": "v", "type": "quantitative", "scale": {"domain": [0, 57], "nice": false}, "axis": {"title": "New infections per 10 000", "values": [0,10,20,30,40,50], "titleX": -59, "titleY": 117, "domain": false, "grid": false, "ticks": true, "tickSize": 13, "tickWidth": 1.3, "tickColor": "#222", "labelFont": "Liberation Serif", "labelFontSize": 21, "labelColor": "#222", "labelFlush": false, "labelOverlap": false, "labelBaseline": "middle", "labelPadding": 2.5, "titleFont": "Liberation Serif", "titleFontSize": 20.5, "titleFontWeight": "normal", "titleColor": "#222", "titleAngle": 270, "titleBaseline": "alphabetic", "titleAlign": "center"}}}},
        {"data": {"name": "mos_inf_med"}, "mark": {"type": "line", "color": "#222", "strokeWidth": 2},
         "encoding": {"y": {"field": "v", "type": "quantitative", "scale": {"domain": [0, 57], "nice": false}, "axis": {"title": "New infections per 10 000", "values": [0,10,20,30,40,50], "titleX": -59, "titleY": 117, "domain": false, "grid": false, "ticks": true, "tickSize": 13, "tickWidth": 1.3, "tickColor": "#222", "labelFont": "Liberation Serif", "labelFontSize": 21, "labelColor": "#222", "labelFlush": false, "labelOverlap": false, "labelBaseline": "middle", "labelPadding": 2.5, "titleFont": "Liberation Serif", "titleFontSize": 20.5, "titleFontWeight": "normal", "titleColor": "#222", "titleAngle": 270, "titleBaseline": "alphabetic", "titleAlign": "center"}}}},
        {"data": {"name": "mos_cut"}, "mark": {"type": "rule", "color": "#222", "strokeWidth": 1.6, "strokeDash": [7, 5]}, "encoding": {}}
      ]
    }
  ]
}
